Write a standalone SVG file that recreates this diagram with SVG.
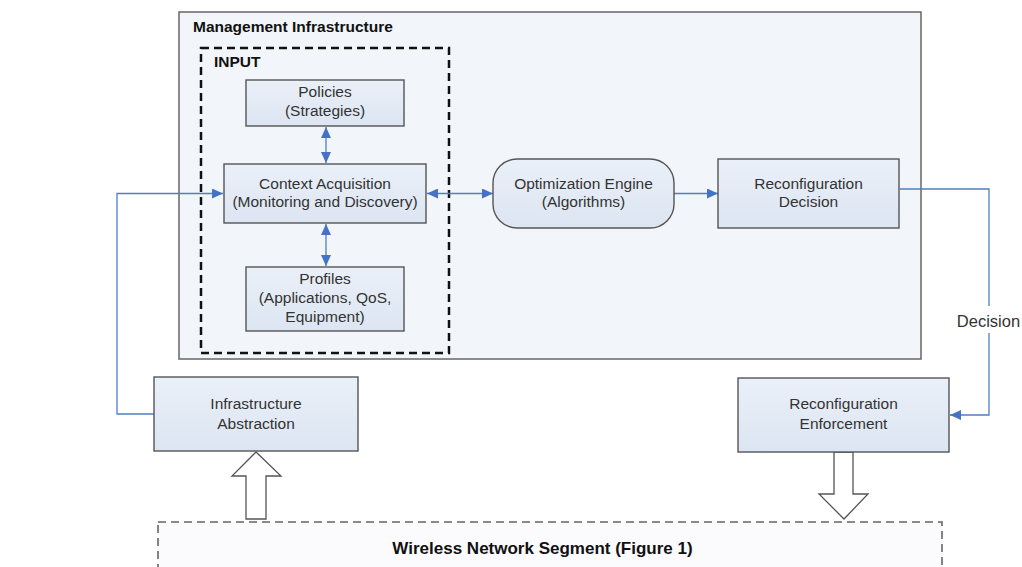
<svg xmlns="http://www.w3.org/2000/svg" width="1022" height="567" viewBox="0 0 1022 567">
  <style>
    .box { fill: url(#nodeFill); stroke: #555; stroke-width: 1.4; }
    .label { font-family: "Liberation Sans", Arial, sans-serif; font-size: 15.5px; fill: #333; text-anchor: middle; }
    .title { font-family: "Liberation Sans", Arial, sans-serif; font-size: 15.5px; font-weight: bold; fill: #111; }
    .link { fill: none; stroke: #4f7fc0; stroke-width: 1.3; }
    .block { fill: #fff; stroke: #555; stroke-width: 1.3; }
  </style>
  <defs>
    <linearGradient id="nodeFill" x1="0" y1="0" x2="0" y2="1">
      <stop offset="0" stop-color="#eaf0f8"/>
      <stop offset="1" stop-color="#dce5f2"/>
    </linearGradient>
    <marker id="arrowEnd" markerUnits="userSpaceOnUse" markerWidth="12" markerHeight="10" refX="11" refY="5" orient="auto">
      <path d="M0,0 L11,5 L0,10 Z" fill="#4472c4"/>
    </marker>
    <marker id="arrowStart" markerUnits="userSpaceOnUse" markerWidth="12" markerHeight="10" refX="1" refY="5" orient="auto">
      <path d="M12,0 L1,5 L12,10 Z" fill="#4472c4"/>
    </marker>
  </defs>

  <rect width="1022" height="567" fill="#fff"/>

  <!-- outer container -->
  <g id="management">
    <rect x="179" y="12" width="742" height="347" fill="#f2f5fa" stroke="#666" stroke-width="1.5"/>
    <text class="title" x="193" y="32">Management Infrastructure</text>
  </g>

  <!-- input group -->
  <g id="input">
    <rect x="201" y="48" width="248" height="305" fill="none" stroke="#111" stroke-width="2.5" stroke-dasharray="8,5"/>
    <text class="title" x="214" y="67">INPUT</text>
  </g>

  <!-- wireless segment -->
  <g id="wireless">
    <rect x="158" y="522" width="784" height="60" fill="#fbfbfd" stroke="#666" stroke-width="1.6" stroke-dasharray="8,5"/>
    <text x="542.5" y="553.5" font-family="Liberation Sans, Arial, sans-serif" font-size="17px" font-weight="bold" fill="#111" text-anchor="middle">Wireless Network Segment (Figure 1)</text>
  </g>

  <!-- connectors -->
  <g id="connectors">
    <line class="link" x1="326" y1="127" x2="326" y2="163" marker-start="url(#arrowStart)" marker-end="url(#arrowEnd)"/>
    <line class="link" x1="326" y1="224" x2="326" y2="266" marker-start="url(#arrowStart)" marker-end="url(#arrowEnd)"/>
    <line class="link" x1="427" y1="193.5" x2="493" y2="193.5" marker-start="url(#arrowStart)" marker-end="url(#arrowEnd)"/>
    <line class="link" x1="674" y1="193.5" x2="718" y2="193.5" marker-end="url(#arrowEnd)"/>
    <path class="link" d="M154,414 H117 V193.5 H223" marker-end="url(#arrowEnd)"/>
    <path class="link" d="M900,189 H989 V415 H950" stroke="#8eaad8" marker-end="url(#arrowEnd)"/>
    <rect x="955" y="306" width="67" height="27" fill="#fff"/>
    <text x="988.5" y="326.5" font-family="Liberation Sans, Arial, sans-serif" font-size="16.5px" fill="#333" text-anchor="middle">Decision</text>
    <!-- hollow block arrows -->
    <path class="block" d="M246,519 V476 H232 L256,452 L281,476 H266 V519 Z"/>
    <path class="block" d="M834,452 V494 H819 L844,519 L868,494 H853 V452 Z"/>
  </g>

  <g id="policies">
    <rect class="box" x="246" y="80" width="158" height="46"/>
    <text class="label" x="325" y="97">Policies</text>
    <text class="label" x="325" y="115.5">(Strategies)</text>
  </g>

  <g id="context">
    <rect class="box" x="224" y="164" width="202" height="59"/>
    <text class="label" x="325" y="188.5">Context Acquisition</text>
    <text class="label" x="325" y="206.5">(Monitoring and Discovery)</text>
  </g>

  <g id="profiles">
    <rect class="box" x="246" y="267" width="158" height="64"/>
    <text class="label" x="325" y="283.5">Profiles</text>
    <text class="label" x="325" y="302.5">(Applications, QoS,</text>
    <text class="label" x="325" y="321.5">Equipment)</text>
  </g>

  <g id="optimization">
    <rect class="box" x="493" y="159" width="181" height="69" rx="24" ry="24"/>
    <text class="label" x="583.5" y="188.5">Optimization Engine</text>
    <text class="label" x="583.5" y="207">(Algorithms)</text>
  </g>

  <g id="decision">
    <rect class="box" x="718" y="159" width="181" height="69"/>
    <text class="label" x="808.5" y="188.5">Reconfiguration</text>
    <text class="label" x="808.5" y="207">Decision</text>
  </g>

  <g id="abstraction">
    <rect class="box" x="154" y="377" width="204" height="74"/>
    <text class="label" x="256" y="408.5">Infrastructure</text>
    <text class="label" x="256" y="429">Abstraction</text>
  </g>

  <g id="enforcement">
    <rect class="box" x="738" y="378" width="211" height="74"/>
    <text class="label" x="843.5" y="409">Reconfiguration</text>
    <text class="label" x="843.5" y="429">Enforcement</text>
  </g>
</svg>
